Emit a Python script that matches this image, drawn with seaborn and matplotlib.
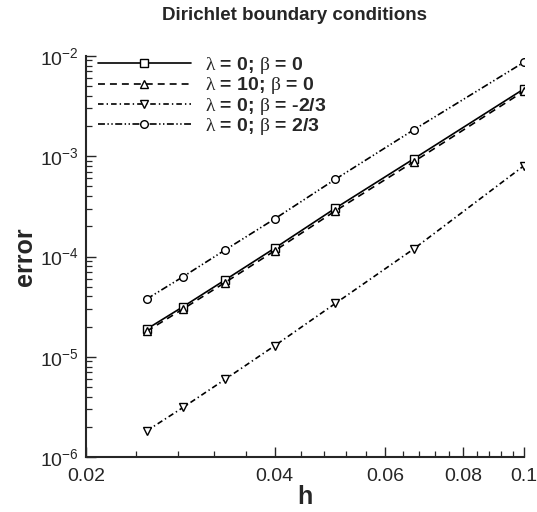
import numpy as np
import pandas as pd
import matplotlib as mpl
import matplotlib.pyplot as plt
import matplotlib.ticker as mticker
import seaborn as sns

sns.set_style('ticks')
plt.rcParams['font.family'] = ['Liberation Sans', 'DejaVu Sans']
plt.rcParams['mathtext.fontset'] = 'custom'
plt.rcParams['mathtext.rm'] = 'Liberation Serif'
plt.rcParams['mathtext.it'] = 'Liberation Serif'
plt.rcParams['mathtext.bf'] = 'Liberation Serif:bold'
plt.rcParams['lines.scale_dashes'] = False
mpl.rcParams['axes.unicode_minus'] = False

# grid spacing h = 1/40 ... 1/10
h = [1/40, 1/35, 1/30, 1/25, 1/20, 1/15, 1/10]

err_l0_b0 = [1.89e-5, 3.16e-5, 5.83e-5, 1.21e-4, 3.03e-4, 9.40e-4, 4.69e-3]
err_l10_b0 = [1.80e-5, 3.00e-5, 5.50e-5, 1.14e-4, 2.85e-4, 8.80e-4, 4.45e-3]
err_l0_bm23 = [1.83e-6, 3.13e-6, 5.96e-6, 1.29e-5, 3.41e-5, 1.19e-4, 8.05e-4]
err_l0_bp23 = [3.77e-5, 6.29e-5, 1.16e-4, 2.37e-4, 5.89e-4, 1.83e-3, 8.65e-3]

labels = [r'$\lambda$ = 0; $\beta$ = 0',
          r'$\lambda$ = 10; $\beta$ = 0',
          r'$\lambda$ = 0; $\beta$ = -2/3',
          r'$\lambda$ = 0; $\beta$ = 2/3']

xticks = [0.02, 0.04, 0.06, 0.08, 0.1]
xticklabels = ['0.02', '0.04', '0.06', '0.08', '0.1']

series = [err_l0_b0, err_l10_b0, err_l0_bm23, err_l0_bp23]
markers = ['s', '^', 'v', 'o']
styles = ['-', (0, (5, 3.6)), (0, (4, 2.2, 1, 2.2)), (0, (5, 1.8, 1, 1.8, 1, 1.8))]

fig = plt.figure(figsize=(5.37, 5.12), dpi=100)
ax = fig.add_axes([0.160, 0.107, 0.816, 0.784])
ax.set_xscale('log')
ax.set_yscale('log')

for err, lab, mk, ls in zip(series, labels, markers, styles):
    df = pd.DataFrame({'h': h, 'error': err})
    sns.lineplot(data=df, x='h', y='error', ax=ax, color='black', linewidth=1.2,
                 linestyle=ls, marker=mk, markersize=5.5, markerfacecolor='white',
                 markeredgecolor='black', markeredgewidth=1.0, label=lab)

ax.set_xlim(0.02, 0.1)
ax.set_ylim(1e-6, 1e-2)
ax.xaxis.set_major_locator(mticker.FixedLocator(xticks))
ax.xaxis.set_major_formatter(mticker.FixedFormatter(xticklabels))
ax.xaxis.set_minor_locator(mticker.MultipleLocator(0.004))
ax.xaxis.set_minor_formatter(mticker.NullFormatter())
ax.yaxis.set_major_locator(mticker.LogLocator(base=10, numticks=10))
ax.yaxis.set_minor_locator(mticker.LogLocator(base=10, subs=np.arange(2, 10), numticks=20))
ax.yaxis.set_minor_formatter(mticker.NullFormatter())

ax.tick_params(which='major', direction='in', length=7.2, width=1.0, labelsize=14)
ax.tick_params(which='minor', direction='in', length=4.3, width=0.9)
ax.tick_params(axis='x', which='major', pad=8)
ax.tick_params(axis='y', which='major', pad=5)
for s in ['top', 'right']:
    ax.spines[s].set_visible(False)
for s in ['left', 'bottom']:
    ax.spines[s].set_linewidth(1.5)

ax.set_xlabel('h', fontsize=18, fontweight='bold', labelpad=0)
ax.set_ylabel('error', fontsize=18, fontweight='bold', labelpad=2)
ax.set_title('Dirichlet boundary conditions', fontsize=13.5, fontweight='bold',
             pad=26, x=0.477)

leg = ax.legend(loc='upper left', bbox_to_anchor=(-0.013, 1.045), frameon=False,
                numpoints=1, handlelength=4.8, handletextpad=0.7,
                labelspacing=-0.04, prop={'size': 14, 'weight': 'bold'})

plt.savefig('out.png', dpi=100)
